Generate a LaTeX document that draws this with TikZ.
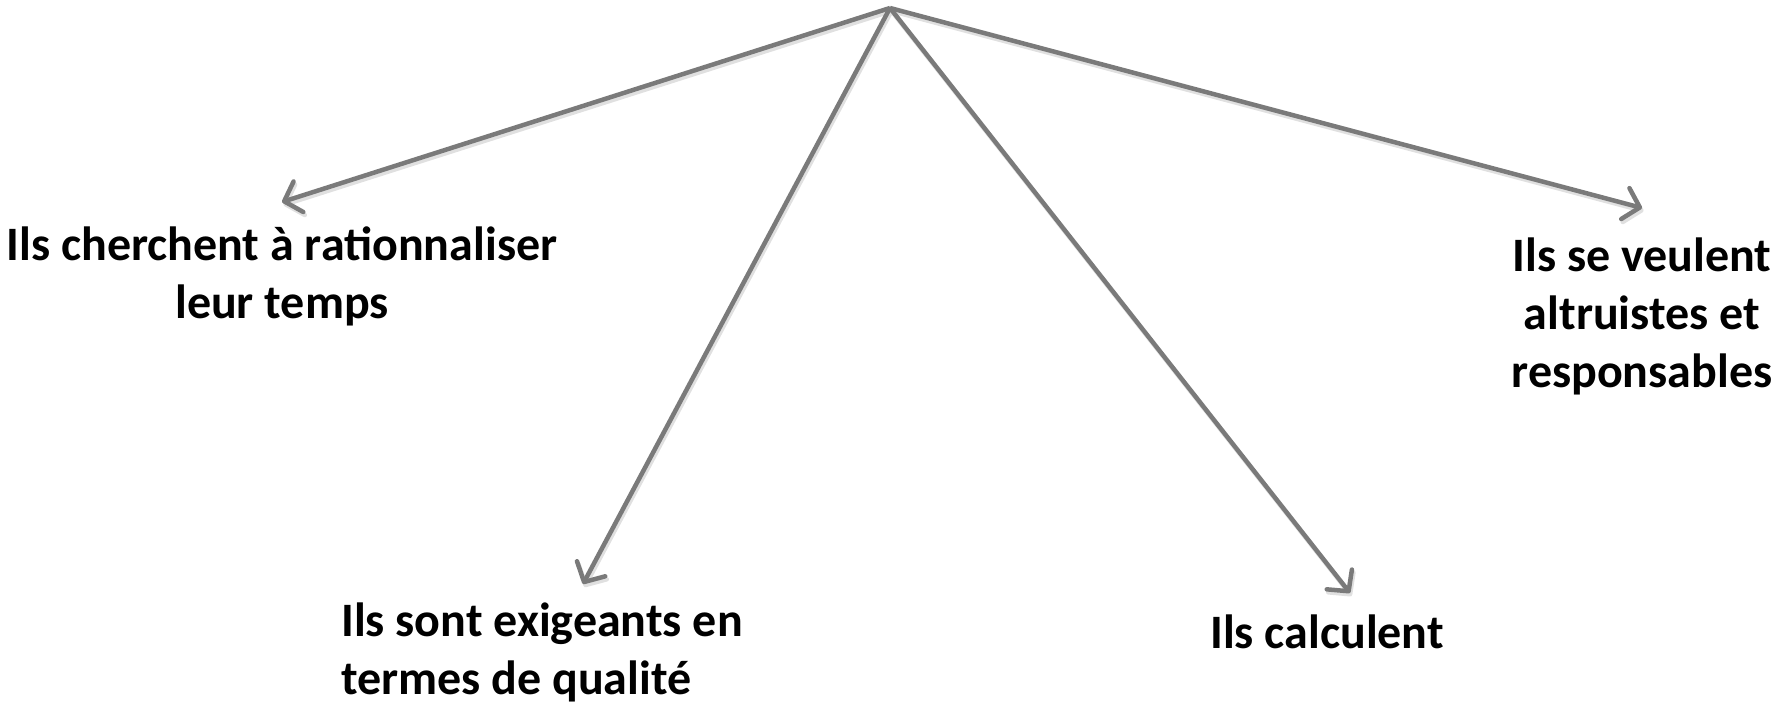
\documentclass[tikz,border=0pt]{standalone}
\usepackage{fontspec}
\setmainfont{Carlito}
\usetikzlibrary{arrows.meta}
\definecolor{arrowgray}{HTML}{7A7A7A}
\tikzset{
  conn/.style={draw=arrowgray, line width=4.5pt, line join=round,
    -{Straight Barb[length=15pt,width=32pt,round]}},
  connshadow/.style={conn, draw=black!12, transform canvas={shift={(1.5pt,-3pt)}}},
  lbl/.style={inner sep=0pt, font=\bfseries\fontsize{48}{58}\selectfont, text=black}
}
\begin{document}
\begin{tikzpicture}[x=1pt,y=-1pt]
\useasboundingbox (0,0) rectangle (1778,706);
\coordinate (apex) at (890,8);
\coordinate (t1) at (282,202);
\coordinate (t2) at (583,584);
\coordinate (t3) at (1350,593);
\coordinate (t4) at (1642,208);
\foreach \t in {t1,t2,t3,t4} {\draw[connshadow] (apex) -- (\t);}
\draw[conn] (apex) -- (t1);
\draw[conn] (apex) -- (t2);
\draw[conn] (apex) -- (t3);
\draw[conn] (apex) -- (t4);
\node[lbl, align=center] (n1) at (282,276) {Ils cherchent à rationnaliser\\leur temps};
\node[lbl, align=left, anchor=west] (n2) at (341,652) {Ils sont exigeants en\\termes de qualité};
\node[lbl] (n3) at (1327,632) {Ils calculent};
\node[lbl, align=center] (n4) at (1642,316) {Ils se veulent\\altruistes et\\responsables};
\end{tikzpicture}
\end{document}
